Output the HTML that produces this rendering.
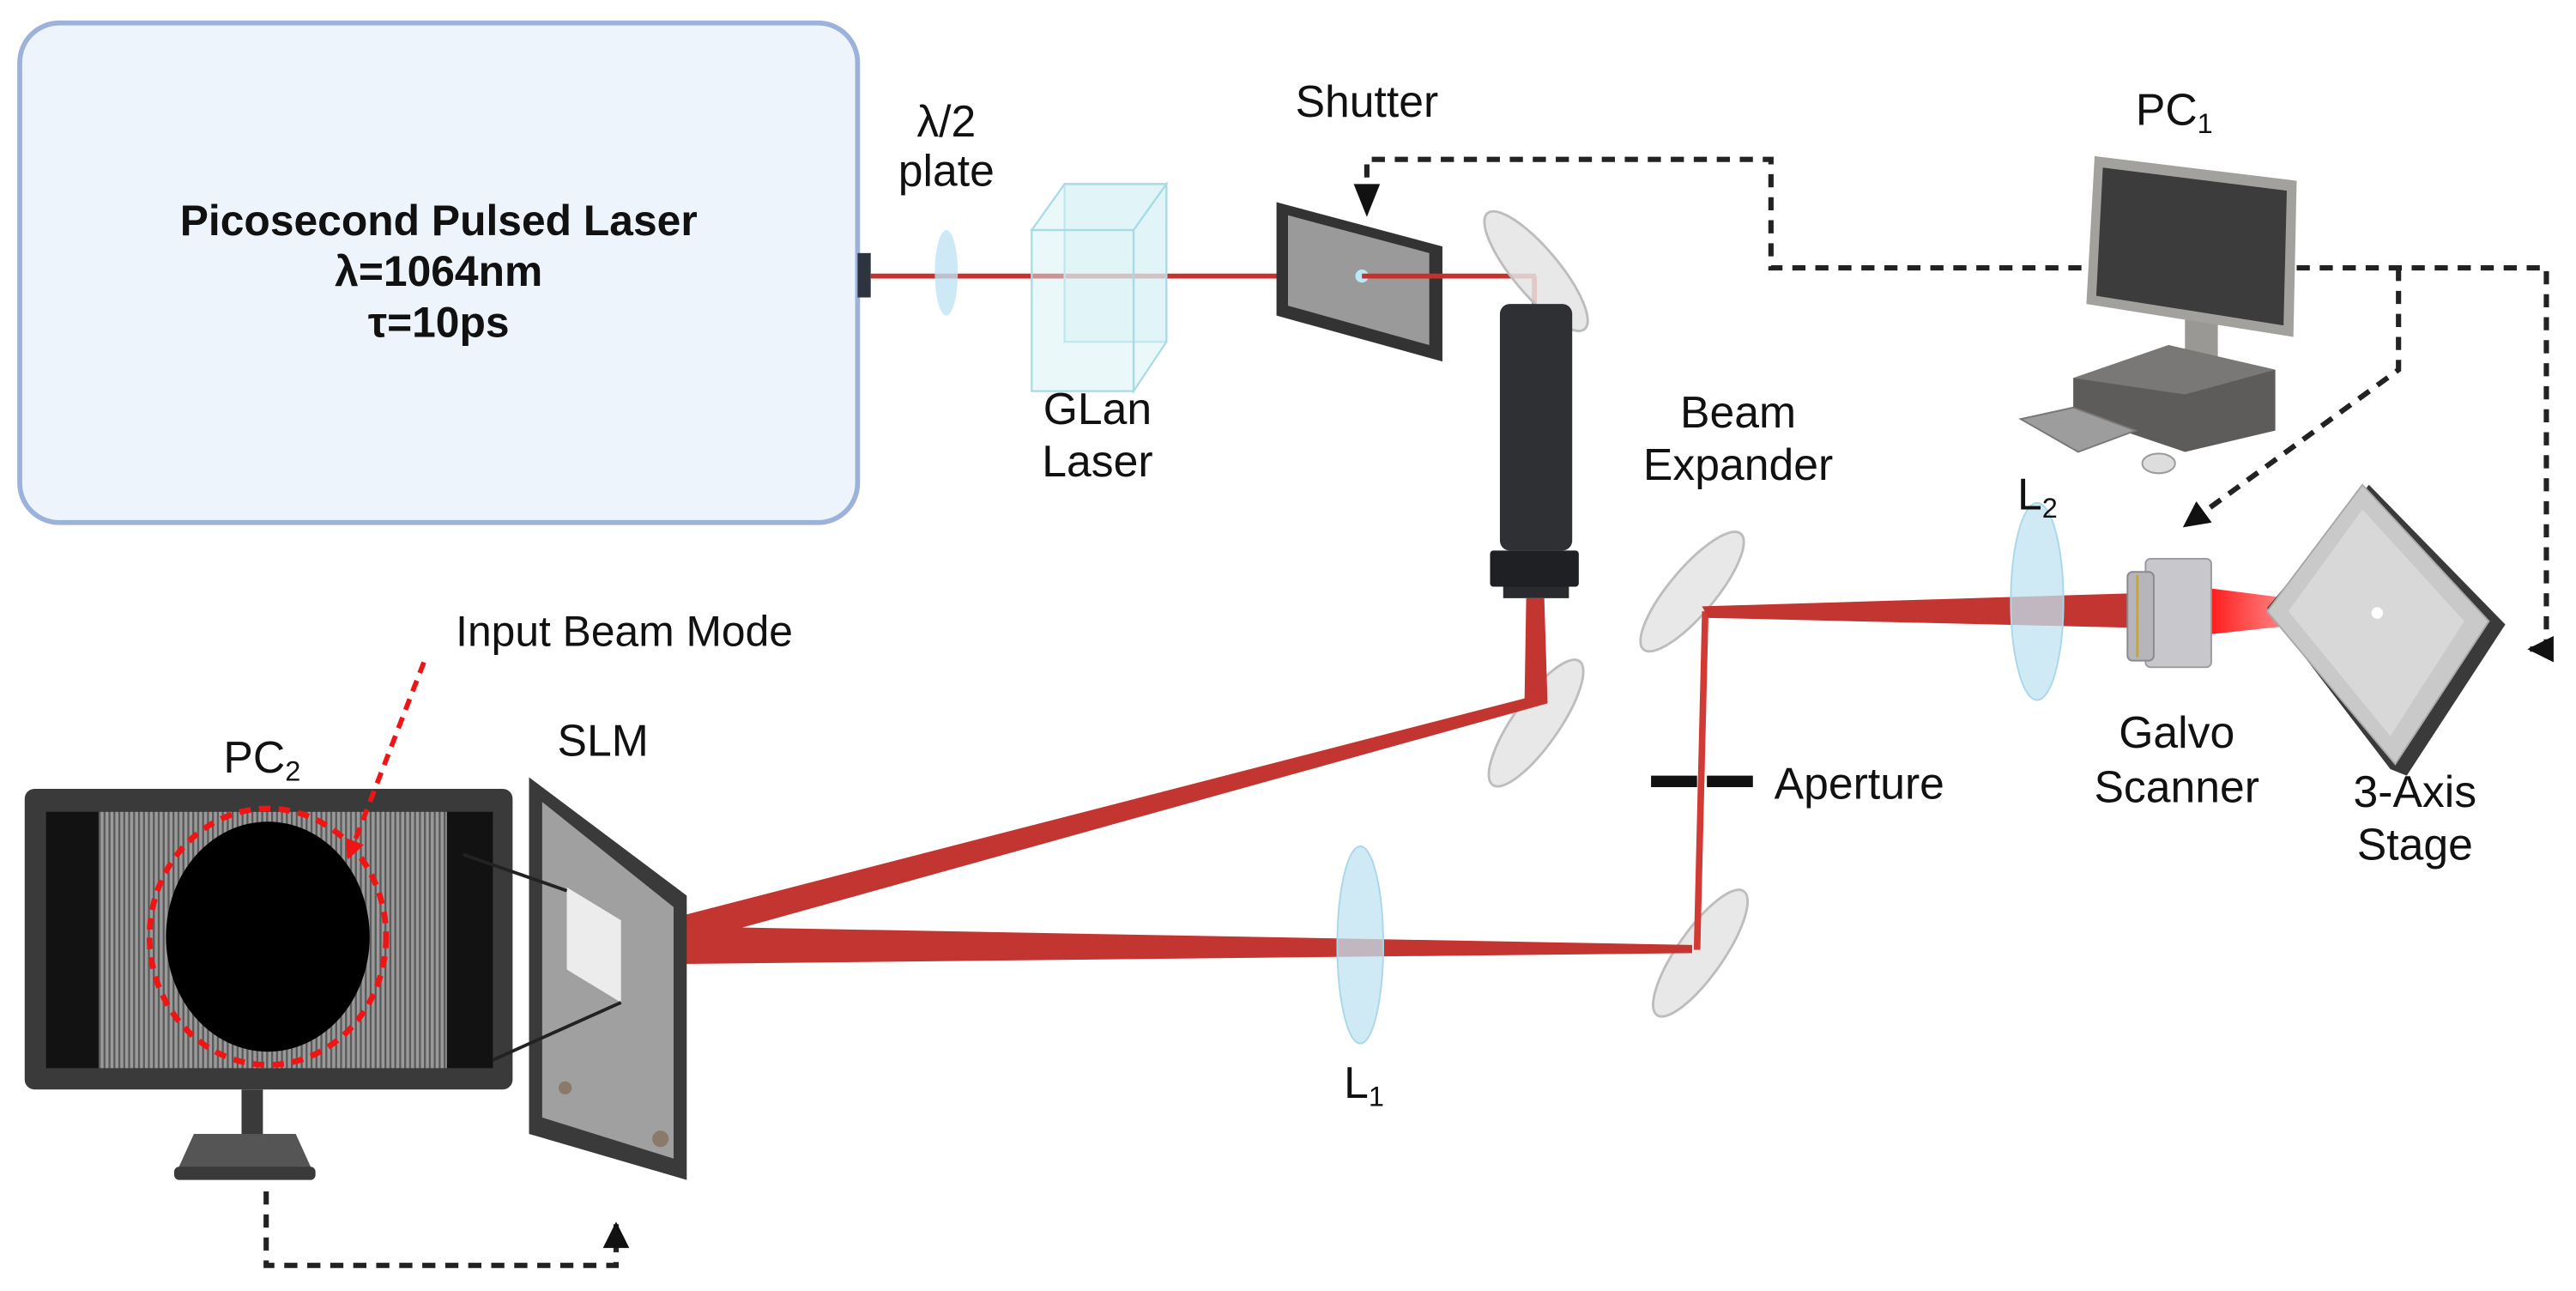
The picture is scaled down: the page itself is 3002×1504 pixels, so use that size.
<!DOCTYPE html>
<html><head><meta charset="utf-8"><style>
html,body{margin:0;padding:0;background:#fff;}
svg{display:block;}
text{font-family:"Liberation Sans",sans-serif;fill:#111;}
</style></head><body>
<svg width="3002" height="1504" viewBox="0 0 1568 785.6" xmlns="http://www.w3.org/2000/svg">
<defs>
<pattern id="grat" width="3" height="10" patternUnits="userSpaceOnUse"><rect width="3" height="10" fill="#9a9a9a"/><rect width="1.2" height="10" fill="#5a5a5a"/></pattern>
<linearGradient id="cone" x1="0" x2="1"><stop offset="0" stop-color="#ff1a1a"/><stop offset="1" stop-color="#ff6b6b" stop-opacity="0.2"/></linearGradient>
<marker id="ah" viewBox="0 0 10 10" refX="9" refY="5" markerWidth="5" markerHeight="5" orient="auto"><path d="M0,0L10,5L0,10z" fill="#111"/></marker>
<marker id="ahr" viewBox="0 0 10 10" refX="9" refY="5" markerWidth="4" markerHeight="4" orient="auto"><path d="M0,0L10,5L0,10z" fill="#f01515"/></marker>
</defs>

<rect x="12" y="14" width="510" height="304" rx="24" fill="#eef4fc" stroke="#9cb2db" stroke-width="3"/>
<text x="267" y="143" font-size="26" font-weight="bold" text-anchor="middle">Picosecond Pulsed Laser</text>
<text x="267" y="174" font-size="26" font-weight="bold" text-anchor="middle">λ=1064nm</text>
<text x="267" y="205" font-size="26" font-weight="bold" text-anchor="middle">τ=10ps</text>
<rect x="522" y="154" width="8" height="27" fill="#2d3440"/>

<g fill="none" stroke="#222" stroke-width="3.2" stroke-dasharray="8,6">
<path d="M832,122 V97 H1078 V163 H1270"/>
<path d="M1398,163 H1550 V395 H1540" marker-end="url(#ah)"/>
<path d="M1460,163 V225 L1330,320" marker-end="url(#ah)"/>
<path d="M162,725 V770 H375 V745" marker-end="url(#ah)"/>
</g>
<path d="M824,112 L840,112 L832,132z" fill="#111"/>

<line x1="530" y1="168" x2="935" y2="168" stroke="#c8302c" stroke-width="3"/>
<line x1="934" y1="168" x2="934" y2="185" stroke="#c8302c" stroke-width="3"/>

<ellipse cx="576" cy="166" rx="7" ry="26" fill="#bfe3f2" opacity="0.8"/>
<text x="576" y="83" font-size="27" text-anchor="middle">λ/2</text>
<text x="576" y="113" font-size="27" text-anchor="middle">plate</text>

<g fill="#d8f1f6" fill-opacity="0.5" stroke="#a9dbe6" stroke-width="1.2">
<rect x="648" y="112" width="62" height="96"/>
<path d="M628,140 L648,112 L710,112 L690,140z"/>
<path d="M690,140 L710,112 L710,208 L690,238z"/>
<rect x="628" y="140" width="62" height="98"/>
</g>
<text x="668" y="258" font-size="27" text-anchor="middle">GLan</text>
<text x="668" y="290" font-size="27" text-anchor="middle">Laser</text>

<path d="M777,123 L878,150 L878,220 L777,192z" fill="#333"/>
<path d="M784,131 L870,154 L870,210 L784,186z" fill="#9a9a9a"/>
<circle cx="829" cy="168" r="4" fill="#bde9f5"/>
<line x1="829" y1="168" x2="878" y2="168" stroke="#c8302c" stroke-width="3"/>
<text x="832" y="71" font-size="27" text-anchor="middle">Shutter</text>

<g fill="#e4e4e4" fill-opacity="0.85" stroke="#bdbdbd" stroke-width="1.5">
<ellipse cx="935" cy="165" rx="14" ry="46" transform="rotate(-40 935 165)"/>
<ellipse cx="935" cy="440" rx="14" ry="46" transform="rotate(35 935 440)"/>
<ellipse cx="1030" cy="360" rx="14" ry="46" transform="rotate(40 1030 360)"/>
<ellipse cx="1035" cy="580" rx="14" ry="46" transform="rotate(35 1035 580)"/>
</g>

<rect x="913" y="185" width="44" height="150" rx="6" fill="#2e3034"/>
<rect x="907" y="335" width="54" height="22" rx="2" fill="#1f2023"/>
<rect x="915" y="357" width="40" height="7" fill="#2a2b2e"/>
<text x="1058" y="260" font-size="27" text-anchor="middle">Beam</text>
<text x="1058" y="292" font-size="27" text-anchor="middle">Expander</text>

<path d="M929,364 L940,364 L942,428 L378,585 L373,568 L928,425z" fill="#c23530"/>
<path d="M375,563 L1030,575 L1030,580 L375,587z" fill="#c23530"/>
<path d="M1031,578 L1036,372 L1040,372 L1035,578z" fill="#d23a35"/>
<path d="M1036,369 L1300,361 L1300,382 L1040,376z" fill="#c23530"/>
<path d="M1345,358 L1448,371 L1448,375 L1345,386z" fill="url(#cone)"/>

<rect x="1005" y="472" width="28" height="7" fill="#111"/>
<rect x="1039" y="472" width="28" height="7" fill="#111"/>
<text x="1080" y="486" font-size="27">Aperture</text>

<ellipse cx="828" cy="575" rx="14" ry="60" fill="#bfe3f2" fill-opacity="0.75" stroke="#a8d8ea"/>
<text x="818" y="668" font-size="27">L<tspan font-size="17" dy="5">1</tspan></text>
<ellipse cx="1240" cy="366" rx="16" ry="60" fill="#bfe3f2" fill-opacity="0.75" stroke="#a8d8ea"/>
<text x="1228" y="310" font-size="27">L<tspan font-size="17" dy="5">2</tspan></text>

<rect x="1306" y="340" width="40" height="66" rx="3" fill="#c8c8cc" stroke="#9a9a9e"/>
<rect x="1295" y="348" width="16" height="54" rx="3" fill="#b5b5ba" stroke="#8a8a8e"/>
<line x1="1301" y1="350" x2="1301" y2="400" stroke="#c9a530" stroke-width="1.5"/>
<text x="1325" y="455" font-size="27" text-anchor="middle">Galvo</text>
<text x="1325" y="488" font-size="27" text-anchor="middle">Scanner</text>

<path d="M1442,295 L1525,380 L1465,472 L1455,468 L1380,370z" fill="#3a3a3a"/>
<path d="M1438,295 L1515,378 L1458,465 L1380,372z" fill="#c9c9c9" stroke="#a9a9a9"/>
<path d="M1438,310 L1500,378 L1455,448 L1393,372z" fill="#d8d8d8"/>
<circle cx="1447" cy="373" r="3.5" fill="#fff"/>
<text x="1470" y="491" font-size="27" text-anchor="middle">3-Axis</text>
<text x="1470" y="523" font-size="27" text-anchor="middle">Stage</text>

<path d="M1330,185 L1350,185 L1350,225 L1330,225z" fill="#9a9895"/>
<path d="M1275,95 L1398,110 L1396,205 L1270,185z" fill="#a3a19e"/>
<path d="M1280,102 L1392,116 L1390,198 L1276,180z" fill="#3c3c3c"/>
<path d="M1262,230 L1320,210 L1385,225 L1385,262 L1330,275 L1262,252z" fill="#5e5c5a"/>
<path d="M1262,230 L1320,210 L1385,225 L1330,240z" fill="#7a7876"/>
<path d="M1230,255 L1262,248 L1300,262 L1265,275z" fill="#9d9d9d" stroke="#777"/>
<ellipse cx="1314" cy="282" rx="10" ry="6" fill="#ddd" stroke="#999"/>
<text x="1300" y="76" font-size="27">PC<tspan font-size="17" dy="5">1</tspan></text>

<rect x="15" y="480" width="297" height="183" rx="6" fill="#3a3a3a"/>
<rect x="28" y="494" width="272" height="156" fill="#121212"/>
<rect x="60" y="494" width="212" height="156" fill="url(#grat)"/>
<ellipse cx="163" cy="570" rx="62" ry="70" fill="#000"/>
<ellipse cx="163" cy="570" rx="72" ry="78" fill="none" stroke="#f01515" stroke-width="3.5" stroke-dasharray="7,5"/>
<rect x="147" y="663" width="13" height="28" fill="#3a3a3a"/>
<path d="M118,690 L180,690 L190,712 L108,712z" fill="#555"/>
<rect x="106" y="710" width="86" height="8" rx="3" fill="#3a3a3a"/>
<text x="136" y="470" font-size="27">PC<tspan font-size="17" dy="5">2</tspan></text>
<path d="M258,403 L212,522" fill="none" stroke="#f01515" stroke-width="3" stroke-dasharray="7,5" marker-end="url(#ahr)"/>
<text x="380" y="393" font-size="26" text-anchor="middle">Input Beam Mode</text>

<path d="M322,473 L418,545 L418,718 L322,690z" fill="#3a3a3a"/>
<path d="M330,488 L410,552 L410,705 L330,680z" fill="#a0a0a0"/>
<path d="M345,540 L378,560 L378,610 L345,590z" fill="#ececec"/>
<line x1="282" y1="520" x2="345" y2="542" stroke="#222" stroke-width="2"/>
<line x1="300" y1="645" x2="378" y2="610" stroke="#222" stroke-width="2"/>
<circle cx="344" cy="662" r="4" fill="#8a7a6a"/><circle cx="402" cy="693" r="5" fill="#8a7a6a"/>
<text x="367" y="460" font-size="27" text-anchor="middle">SLM</text>
</svg>
</body></html>
